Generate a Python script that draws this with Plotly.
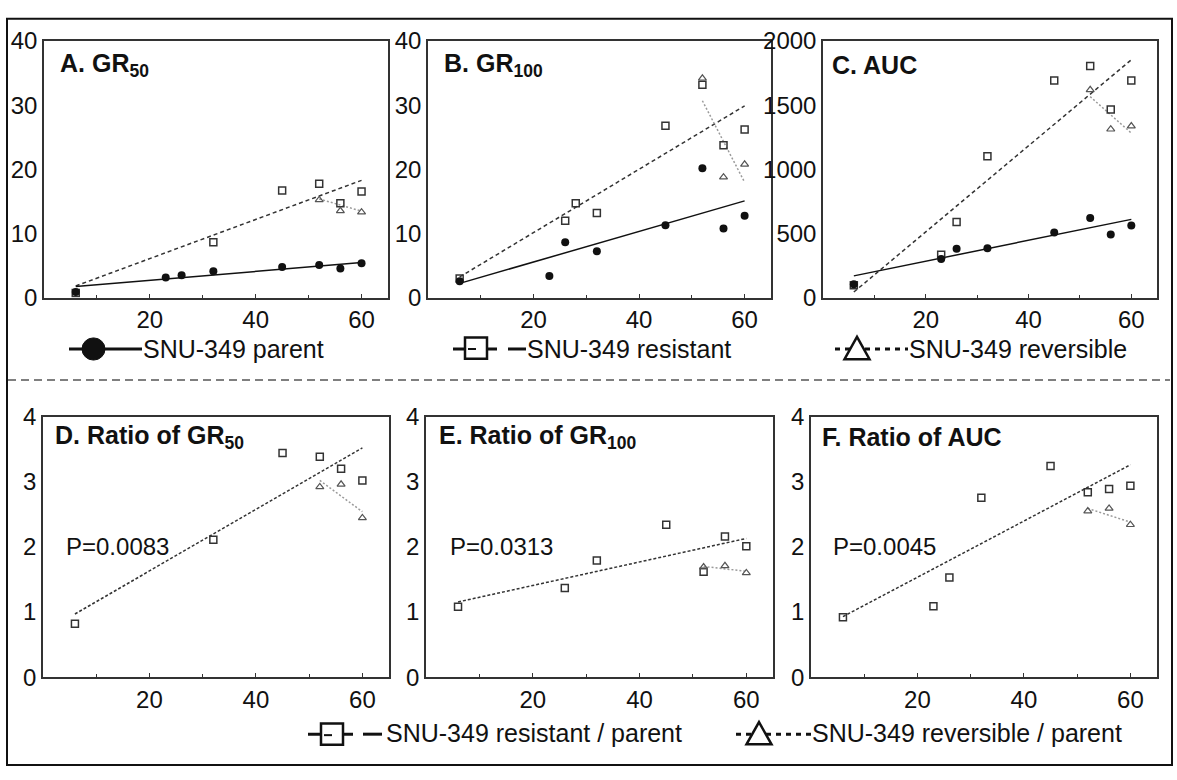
import plotly.graph_objects as go

# ---------------- data ----------------
# A. GR50
gr50_parent_x = [6, 23, 26, 32, 45, 52, 56, 60]
gr50_parent_y = [0.9, 3.15, 3.5, 4.15, 4.8, 5.1, 4.55, 5.4]
gr50_res_x = [6, 32, 45, 52, 56, 60]
gr50_res_y = [0.75, 8.65, 16.7, 17.75, 14.75, 16.55]
gr50_rev_x = [52, 56, 60]
gr50_rev_y = [15.25, 13.55, 13.35]
gr50_parent_fit = [1.75, 5.5]
gr50_res_fit = [1.85, 18.3]
gr50_rev_fit = [15.4, 13.5]

# B. GR100
gr100_parent_x = [6, 23, 26, 32, 45, 52, 56, 60]
gr100_parent_y = [2.6, 3.4, 8.65, 7.25, 11.3, 20.2, 10.8, 12.8]
gr100_res_x = [6, 26, 28, 32, 45, 52, 56, 60]
gr100_res_y = [3.0, 12.0, 14.75, 13.2, 26.8, 33.2, 23.75, 26.2]
gr100_rev_x = [52, 56, 60]
gr100_rev_y = [34.2, 18.8, 20.8]
gr100_parent_fit = [2.25, 15.1]
gr100_res_fit = [3.25, 29.9]
gr100_rev_fit = [30.7, 18.0]

# C. AUC
auc_parent_x = [6, 23, 26, 32, 45, 52, 56, 60]
auc_parent_y = [106, 302, 382, 387, 508, 621, 493, 563]
auc_res_x = [6, 23, 26, 32, 45, 52, 56, 60]
auc_res_y = [97, 335, 591, 1102, 1693, 1806, 1467, 1693]
auc_rev_x = [52, 56, 60]
auc_rev_y = [1620, 1313, 1338]
auc_parent_fit = [171, 611]
auc_res_fit = [45, 1854]
auc_rev_fit = [1567, 1283]

# D. Ratio of GR50
r50_res_x = [6, 32, 45, 52, 56, 60]
r50_res_y = [0.82, 2.11, 3.44, 3.385, 3.2, 3.02]
r50_rev_x = [52, 56, 60]
r50_rev_y = [2.92, 2.96, 2.445]
r50_res_fit = [0.97, 3.52]
r50_rev_fit = [3.02, 2.54]

# E. Ratio of GR100
r100_res_x = [6, 26, 32, 45, 52, 56, 60]
r100_res_y = [1.08, 1.37, 1.79, 2.34, 1.62, 2.16, 2.01]
r100_rev_x = [52, 56, 60]
r100_rev_y = [1.69, 1.71, 1.60]
r100_res_fit = [1.155, 2.13]
r100_rev_fit = [1.70, 1.625]

# F. Ratio of AUC
rauc_res_x = [6, 23, 26, 32, 45, 52, 56, 60]
rauc_res_y = [0.92, 1.09, 1.53, 2.755, 3.24, 2.84, 2.89, 2.94]
rauc_rev_x = [52, 56, 60]
rauc_rev_y = [2.55, 2.59, 2.34]
rauc_res_fit = [0.93, 3.26]
rauc_rev_fit = [2.59, 2.38]

fit_x = [6, 60]
rev_fit_x = [52, 60]

titles = ["<b>A. GR<sub>50</sub></b>", "<b>B. GR<sub>100</sub></b>", "<b>C. AUC</b>",
          "<b>D. Ratio of GR<sub>50</sub></b>", "<b>E. Ratio of GR<sub>100</sub></b>",
          "<b>F. Ratio of AUC</b>"]
p_values = ["P=0.0083", "P=0.0313", "P=0.0045"]
legend_top = ["SNU-349 parent", "SNU-349 resistant", "SNU-349 reversible"]
legend_bottom = ["SNU-349 resistant / parent", "SNU-349 reversible / parent"]

x_ticks = [20, 40, 60]
x_minor = [10, 30, 50]
y_ticks_gr = [0, 10, 20, 30, 40]
y_ticks_auc = [0, 500, 1000, 1500, 2000]
y_ticks_ratio = [0, 1, 2, 3, 4]

# ---------------- layout helpers ----------------
W, H = 1177, 780
FONT = "Arial, Liberation Sans, Helvetica, sans-serif"


def fx(p):
    return p / W


def fy(p):
    return 1 - p / H


panels = [
    # (x0, x1, ytop, ybottom) in pixels
    (44, 388, 28, 294),
    (428, 771, 28, 294),
    (823, 1157, 28, 294),
    (43, 389, 417, 687),
    (426, 773, 417, 687),
    (811, 1157, 417, 687),
]
y_ranges = [[0, 40], [0, 40], [0, 2000], [0, 4], [0, 4], [0, 4]]
y_tickvals = [y_ticks_gr, y_ticks_gr, y_ticks_auc, y_ticks_ratio, y_ticks_ratio, y_ticks_ratio]

fig = go.Figure()

C_PAR = "#111111"
C_RES = "#333333"
C_REV = "#555555"
C_DOT = "#9a9a9a"


def axnames(i):
    return ("x" if i == 0 else f"x{i+1}", "y" if i == 0 else f"y{i+1}")


def add_line(i, xs, ys, color, dash, width=1.5):
    xa, ya = axnames(i)
    fig.add_trace(go.Scatter(x=xs, y=ys, mode="lines", xaxis=xa, yaxis=ya,
                             line=dict(color=color, dash=dash, width=width),
                             showlegend=False, hoverinfo="skip"))


def add_pts(i, xs, ys, kind):
    xa, ya = axnames(i)
    if kind == "par":
        m = dict(symbol="circle", size=8, color=C_PAR)
    elif kind == "res":
        m = dict(symbol="square-open", size=7, color=C_RES, line=dict(width=1.5, color=C_RES))
    else:
        m = dict(symbol="triangle-up-open", size=7, color=C_REV, line=dict(width=1.2, color=C_REV))
    fig.add_trace(go.Scatter(x=xs, y=ys, mode="markers", xaxis=xa, yaxis=ya,
                             marker=m, showlegend=False))


DASH_TOP = "4px,3px"
DASH_BOT = "3px,2px"
DOT = "2px,2px"

# Panel A
add_line(0, fit_x, gr50_res_fit, C_RES, DASH_TOP)
add_line(0, rev_fit_x, gr50_rev_fit, C_DOT, DOT)
add_line(0, fit_x, gr50_parent_fit, C_PAR, "solid")
add_pts(0, gr50_res_x, gr50_res_y, "res")
add_pts(0, gr50_rev_x, gr50_rev_y, "rev")
add_pts(0, gr50_parent_x, gr50_parent_y, "par")
# Panel B
add_line(1, fit_x, gr100_res_fit, C_RES, DASH_TOP)
add_line(1, rev_fit_x, gr100_rev_fit, C_DOT, DOT)
add_line(1, fit_x, gr100_parent_fit, C_PAR, "solid")
add_pts(1, gr100_res_x, gr100_res_y, "res")
add_pts(1, gr100_rev_x, gr100_rev_y, "rev")
add_pts(1, gr100_parent_x, gr100_parent_y, "par")
# Panel C
add_line(2, fit_x, auc_res_fit, C_RES, DASH_TOP)
add_line(2, rev_fit_x, auc_rev_fit, C_DOT, DOT)
add_line(2, fit_x, auc_parent_fit, C_PAR, "solid")
add_pts(2, auc_res_x, auc_res_y, "res")
add_pts(2, auc_rev_x, auc_rev_y, "rev")
add_pts(2, auc_parent_x, auc_parent_y, "par")
# Panel D
add_line(3, fit_x, r50_res_fit, C_RES, DASH_BOT)
add_line(3, rev_fit_x, r50_rev_fit, C_DOT, DOT)
add_pts(3, r50_res_x, r50_res_y, "res")
add_pts(3, r50_rev_x, r50_rev_y, "rev")
# Panel E
add_line(4, fit_x, r100_res_fit, C_RES, DASH_BOT)
add_line(4, rev_fit_x, r100_rev_fit, C_DOT, DOT)
add_pts(4, r100_res_x, r100_res_y, "res")
add_pts(4, r100_rev_x, r100_rev_y, "rev")
# Panel F
add_line(5, fit_x, rauc_res_fit, C_RES, DASH_BOT)
add_line(5, rev_fit_x, rauc_rev_fit, C_DOT, DOT)
add_pts(5, rauc_res_x, rauc_res_y, "res")
add_pts(5, rauc_rev_x, rauc_rev_y, "rev")

TICK_SIZE = 24
layout = dict(
    width=W, height=H,
    margin=dict(l=0, r=0, t=0, b=0),
    paper_bgcolor="white", plot_bgcolor="white",
    showlegend=False,
    font=dict(family=FONT, size=TICK_SIZE, color="#111"),
)

for i, (x0, x1, yt, yb) in enumerate(panels):
    xk = "xaxis" if i == 0 else f"xaxis{i+1}"
    yk = "yaxis" if i == 0 else f"yaxis{i+1}"
    xa, ya = axnames(i)
    layout[xk] = dict(
        domain=[fx(x0), fx(x1)], anchor=ya, range=[0, 65],
        tickvals=x_ticks, ticks="inside", ticklen=4, tickwidth=1.2, tickcolor="#333",
        minor=dict(tickvals=x_minor, ticks="inside", ticklen=3, tickcolor="#333", tickwidth=1.2),
        showline=True, mirror=True, linecolor="#333", linewidth=1.5,
        showgrid=False, zeroline=False,
        tickfont=dict(family=FONT, size=TICK_SIZE, color="#111"),
    )
    layout[yk] = dict(
        domain=[fy(yb), fy(yt)], anchor=xa, range=y_ranges[i],
        tickvals=y_tickvals[i], ticks="",
        showline=True, mirror=True, linecolor="#333", linewidth=1.5,
        showgrid=False, zeroline=False,
        tickfont=dict(family=FONT, size=TICK_SIZE, color="#111"),
    )

fig.update_layout(**layout)

annotations = []
title_pos = [(58, 53), (442, 53), (830, 53), (53, 438), (437, 438), (820, 438)]
for t, (px, py) in zip(titles, title_pos):
    annotations.append(dict(x=fx(px), y=fy(py), xref="paper", yref="paper", text=t,
                            showarrow=False, xanchor="left", yanchor="middle",
                            font=dict(family=FONT, size=25, color="#111")))
p_pos = [(64, 552), (448, 552), (831, 552)]
for t, (px, py) in zip(p_values, p_pos):
    annotations.append(dict(x=fx(px), y=fy(py), xref="paper", yref="paper", text=t,
                            showarrow=False, xanchor="left", yanchor="middle",
                            font=dict(family=FONT, size=24, color="#111")))

# legend texts
leg_text_pos = [(141, 347), (525, 347), (907, 347)]
for t, (px, py) in zip(legend_top, leg_text_pos):
    annotations.append(dict(x=fx(px), y=fy(py), xref="paper", yref="paper", text=t,
                            showarrow=False, xanchor="left", yanchor="middle",
                            font=dict(family=FONT, size=25, color="#111")))
leg2_text_pos = [(384, 745), (810, 745)]
for t, (px, py) in zip(legend_bottom, leg2_text_pos):
    annotations.append(dict(x=fx(px), y=fy(py), xref="paper", yref="paper", text=t,
                            showarrow=False, xanchor="left", yanchor="middle",
                            font=dict(family=FONT, size=25, color="#111")))

shapes = []


def pline(x0, y0, x1, y1, color="#111", width=3, dash="solid"):
    shapes.append(dict(type="line", xref="paper", yref="paper",
                       x0=fx(x0), y0=fy(y0), x1=fx(x1), y1=fy(y1),
                       line=dict(color=color, width=width, dash=dash)))


def psquare(cx, cy, s):
    shapes.append(dict(type="rect", xref="paper", yref="paper",
                       x0=fx(cx - s / 2), x1=fx(cx + s / 2), y0=fy(cy + s / 2), y1=fy(cy - s / 2),
                       line=dict(color="#111", width=2.5), fillcolor="white"))


def ptriangle(cx, cy, w, h):
    path = (f"M {fx(cx - w/2)},{fy(cy + h/2)} L {fx(cx + w/2)},{fy(cy + h/2)} "
            f"L {fx(cx)},{fy(cy - h/2)} Z")
    shapes.append(dict(type="path", xref="paper", yref="paper", path=path,
                       line=dict(color="#111", width=2.5), fillcolor="white"))


# legend row 1
pline(69, 347, 142, 347)
shapes.append(dict(type="circle", xref="paper", yref="paper",
                   x0=fx(82), x1=fx(105), y0=fy(358.5), y1=fy(335.5),
                   line=dict(color="#111", width=1), fillcolor="#111"))
pline(453, 347, 497, 347)
psquare(476, 346, 22)
pline(468, 347, 476, 347, width=2)
pline(508, 347, 526, 347)
pline(835, 347, 908, 347, dash="5px,5px")
ptriangle(857, 346, 25, 23)

# legend row 2
pline(308, 746, 353, 746)
psquare(332, 746, 22)
pline(324, 747, 332, 747, width=2)
pline(363, 746, 382, 746)
pline(736, 746, 811, 746, dash="5px,5px")
ptriangle(759, 745, 25, 23)

# separator and frame
pline(8, 379, 1170, 379, color="#555", width=1.5, dash="8px,5px")
shapes.append(dict(type="rect", xref="paper", yref="paper",
                   x0=fx(7), x1=fx(1172), y0=fy(778), y1=fy(5),
                   line=dict(color="#111", width=2)))

fig.update_layout(annotations=annotations, shapes=shapes)
fig.write_html("out.html",
               config={"displayModeBar": False},
               post_script="document.body.style.margin='0';document.body.style.overflow='hidden';")
